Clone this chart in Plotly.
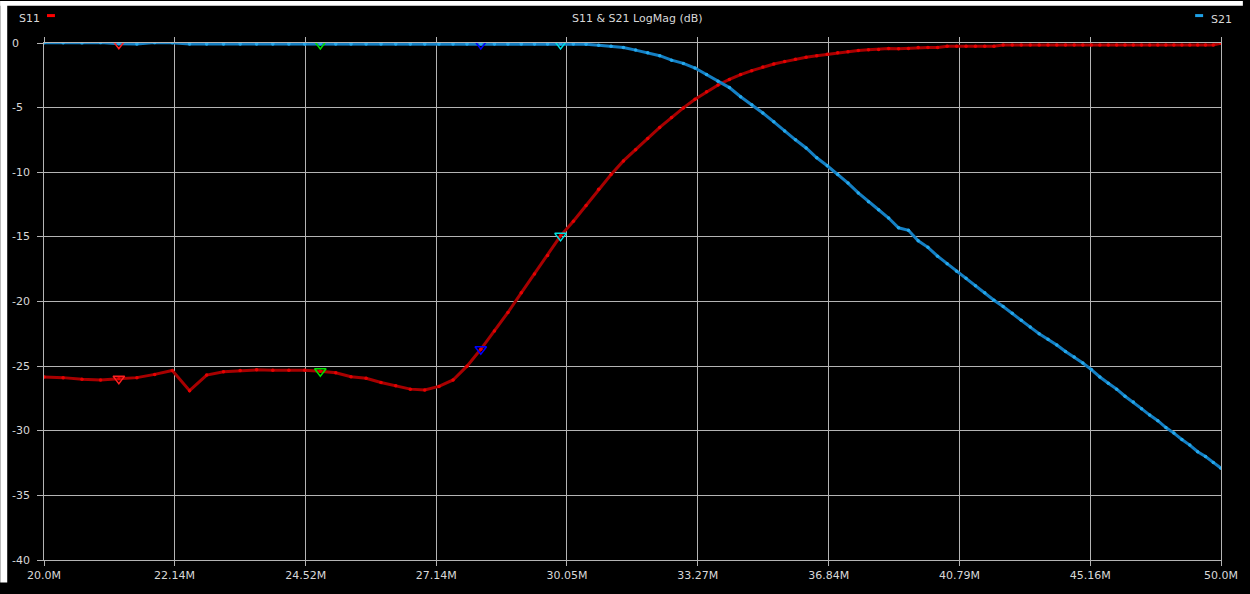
import plotly.graph_objects as go
import math

# ---------------- data ----------------
f_start_mhz = 20.0
f_step_mhz = 0.3
n_points = 101
freq_mhz = [round(f_start_mhz + f_step_mhz * i, 3) for i in range(n_points)]

s11_db = [
    -25.84, -25.89, -26.02, -26.07, -25.97, -25.89, -25.64, -25.34, -26.90, -25.69,
    -25.44, -25.34, -25.29, -25.31, -25.31, -25.31, -25.39, -25.51, -25.82, -25.94,
    -26.27, -26.52, -26.78, -26.85, -26.57, -26.07, -25.00, -23.70, -22.28, -20.85,
    -19.33, -17.87, -16.44, -14.92, -13.79, -12.58, -11.32, -10.18, -9.12, -8.25,
    -7.38, -6.53, -5.77, -5.02, -4.36, -3.78, -3.25, -2.82, -2.44, -2.14,
    -1.86, -1.63, -1.44, -1.26, -1.10, -0.99, -0.88, -0.76, -0.68, -0.58,
    -0.53, -0.50, -0.42, -0.45, -0.42, -0.35, -0.35, -0.35, -0.25, -0.25,
    -0.25, -0.25, -0.25, -0.25, -0.15, -0.15, -0.15, -0.15, -0.15, -0.15,
    -0.15, -0.15, -0.15, -0.15, -0.15, -0.15, -0.15, -0.15, -0.15, -0.15,
    -0.15, -0.15, -0.15, -0.15, -0.15, -0.15, -0.15, -0.15, -0.15, -0.15,
    -0.02,
]

s21_db = [
    0.02, 0.02, 0.01, 0.03, -0.05, -0.08, 0.04, 0.02, -0.07, -0.07,
    -0.07, -0.07, -0.07, -0.07, -0.07, -0.07, -0.07, -0.07, -0.07, -0.07,
    -0.07, -0.07, -0.07, -0.07, -0.07, -0.07, -0.07, -0.07, -0.07, -0.07,
    -0.07, -0.07, -0.07, -0.07, -0.07, -0.10, -0.17, -0.25, -0.35, -0.55,
    -0.75, -0.98, -1.33, -1.58, -1.94, -2.44, -2.95, -3.45, -4.16, -4.77,
    -5.42, -6.10, -6.81, -7.49, -8.12, -8.88, -9.50, -10.18, -10.84, -11.60,
    -12.28, -12.90, -13.54, -14.30, -14.49, -15.30, -15.81, -16.49, -17.07, -17.65,
    -18.20, -18.78, -19.33, -19.90, -20.39, -20.90, -21.45, -21.98, -22.49, -22.92,
    -23.37, -23.87, -24.30, -24.76, -25.27, -25.84, -26.32, -26.78, -27.33, -27.78,
    -28.29, -28.79, -29.22, -29.75, -30.18, -30.68, -31.11, -31.62, -32.00, -32.45,
    -32.90,
]

marker_freqs_mhz = [21.2, 24.8, 28.1, 29.9]
marker_colors = ["#ff2020", "#00e000", "#0000ff", "#00e0e0"]

x_tick_vals = [20.0, 22.14, 24.52, 27.14, 30.05, 33.27, 36.84, 40.79, 45.16, 50.0]
x_tick_text = ["20.0M", "22.14M", "24.52M", "27.14M", "30.05M",
               "33.27M", "36.84M", "40.79M", "45.16M", "50.0M"]
y_tick_vals = [0, -5, -10, -15, -20, -25, -30, -35, -40]

title_text = "S11 & S21 LogMag (dB)"

# ---------------- style ----------------
W, H = 1250, 594
# plot area in page pixels
PL, PR, PT, PB = 44, 1228, 43, 571
ML, MR, MT, MB = PL, W - PR, PT, H - PB
PW, PH = PR - PL, PB - PT
FONT = "DejaVu Sans"
TXT = "#d8d8d8"
GRID = "#b4b4b4"


def px_x(X):
    return (X - PL) / PW


def px_y(Y):
    return (PB - Y) / PH


fig = go.Figure()

fig.add_trace(go.Scatter(
    x=freq_mhz, y=s11_db, mode="lines+markers", name="S11",
    line=dict(color="#a80000", width=3),
    marker=dict(color="#e60000", size=3.5),
    showlegend=False,
))
fig.add_trace(go.Scatter(
    x=freq_mhz, y=s21_db, mode="lines+markers", name="S21",
    line=dict(color="#1580c4", width=3),
    marker=dict(color="#24a8ec", size=3.5),
    showlegend=False,
))

# marker triangles on both traces
for fm, col in zip(marker_freqs_mhz, marker_colors):
    idx = min(range(n_points), key=lambda i: abs(freq_mhz[i] - fm))
    fig.add_trace(go.Scatter(
        x=[freq_mhz[idx], freq_mhz[idx]], y=[s11_db[idx], s21_db[idx]],
        mode="markers",
        marker=dict(symbol="triangle-down-open", size=10, color=col,
                    line=dict(color=col, width=1.5)),
        showlegend=False, hoverinfo="skip",
    ))

annotations = []
for v in y_tick_vals:
    annotations.append(dict(
        x=px_x(10), xref="paper", y=v, yref="y", text=str(v),
        showarrow=False, xanchor="left", yanchor="middle",
        font=dict(family=FONT, size=11, color=TXT),
    ))
annotations += [
    dict(x=px_x(641), xref="paper", y=px_y(18), yref="paper", text=title_text,
         showarrow=False, xanchor="center", yanchor="middle",
         font=dict(family=FONT, size=11, color=TXT)),
    dict(x=px_x(17), xref="paper", y=px_y(18), yref="paper", text="S11",
         showarrow=False, xanchor="left", yanchor="middle",
         font=dict(family=FONT, size=11, color=TXT)),
    dict(x=px_x(1241), xref="paper", y=px_y(19), yref="paper", text="S21",
         showarrow=False, xanchor="right", yanchor="middle",
         font=dict(family=FONT, size=11, color=TXT)),
]

shapes = [
    # white strips (top and left) of the screenshot frame
    dict(type="rect", xref="paper", yref="paper", x0=px_x(0), x1=px_x(W),
         y0=px_y(5), y1=px_y(0), fillcolor="white", line=dict(width=0), layer="below"),
    dict(type="rect", xref="paper", yref="paper", x0=px_x(0), x1=px_x(7),
         y0=px_y(H), y1=px_y(0), fillcolor="white", line=dict(width=0), layer="below"),
    # legend dashes
    dict(type="line", xref="paper", yref="paper", x0=px_x(47), x1=px_x(55),
         y0=px_y(15), y1=px_y(15), line=dict(color="#ff0000", width=3)),
    dict(type="line", xref="paper", yref="paper", x0=px_x(1202), x1=px_x(1210),
         y0=px_y(15), y1=px_y(15), line=dict(color="#1ea0e6", width=3)),
]

fig.update_layout(
    width=W, height=H, autosize=False,
    margin=dict(l=ML, r=MR, t=MT, b=MB, pad=0),
    paper_bgcolor="black", plot_bgcolor="black",
    annotations=annotations, shapes=shapes,
    showlegend=False, hovermode=False,
    xaxis=dict(
        type="log", range=[math.log10(20.0), math.log10(50.0)],
        tickmode="array", tickvals=x_tick_vals, ticktext=x_tick_text,
        showgrid=True, gridcolor=GRID, gridwidth=1,
        showline=True, linecolor=GRID, linewidth=1, mirror="ticks",
        ticks="outside", ticklen=5, tickcolor=GRID, tickwidth=1,
        tickfont=dict(family=FONT, size=11, color=TXT),
        zeroline=False, fixedrange=True,
    ),
    yaxis=dict(
        range=[-40, 0], tickmode="array", tickvals=y_tick_vals,
        showticklabels=False,
        showgrid=True, gridcolor=GRID, gridwidth=1,
        showline=True, linecolor=GRID, linewidth=1, mirror=True,
        ticks="outside", ticklen=6, tickcolor=GRID, tickwidth=1,
        zeroline=False, fixedrange=True,
    ),
)

fig.write_html(
    "out.html",
    config={"displayModeBar": False, "staticPlot": True},
    post_script="document.body.style.margin='0';document.body.style.overflow='hidden';",
)
